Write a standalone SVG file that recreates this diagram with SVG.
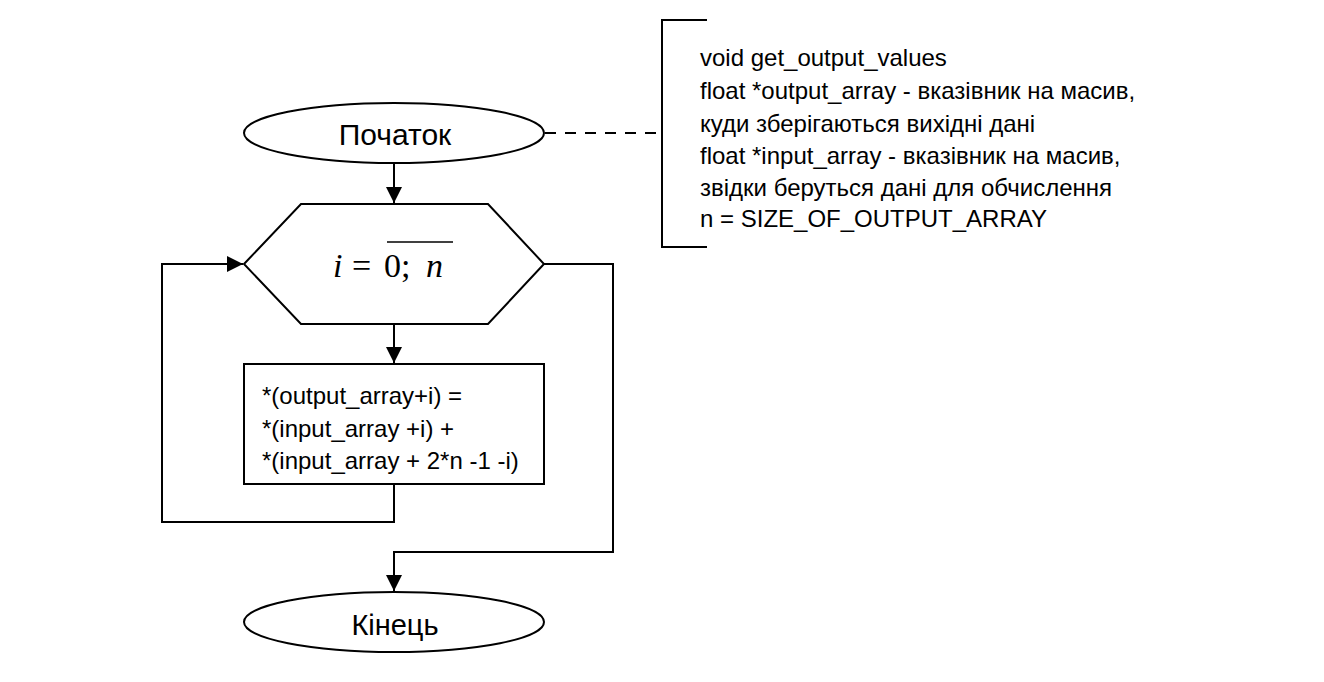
<svg xmlns="http://www.w3.org/2000/svg" width="1324" height="682" viewBox="0 0 1324 682">
<style>
.s{fill:#fff;stroke:#000;stroke-width:2}
.t{font-family:"Liberation Sans",Arial,sans-serif;fill:#000}
.c{fill:none;stroke:#000;stroke-width:2}
.m{font-family:"Liberation Serif","DejaVu Serif",serif;font-size:34px;fill:#000}
</style>
<defs>
<marker id="ah" viewBox="0 0 12 12" markerWidth="16" markerHeight="16" refX="12" refY="6" orient="auto" markerUnits="userSpaceOnUse">
<path d="M0,0 L12,6 L0,12 z" fill="#000"/>
</marker>
</defs>
<rect width="1324" height="682" fill="#fff"/>
<g id="connectors">
<path class="c" d="M394,163 V203" marker-end="url(#ah)"/>
<path class="c" d="M394,324 V363" marker-end="url(#ah)"/>
<path class="c" d="M394,484 V522 H162 V264 H243" marker-end="url(#ah)"/>
<path class="c" d="M544,264 H613 V552 H394 V591" marker-end="url(#ah)"/>
<path class="c" d="M545,133 H662" stroke-dasharray="11,9" stroke-width="1.5"/>
</g>
<g id="start">
<ellipse class="s" cx="394" cy="133" rx="150" ry="30"/>
<text class="t" x="395" y="145" font-size="30" text-anchor="middle">Початок</text>
</g>
<g id="loop">
<polygon class="s" points="244,264 301,204 488,204 544,264 488,324 301,324"/>
<text class="m" y="277"><tspan x="333" font-style="italic">i</tspan><tspan x="352">=</tspan><tspan x="384">0;</tspan><tspan x="426" font-style="italic">n</tspan></text>
<line x1="387" y1="242" x2="453" y2="242" stroke="#000" stroke-width="1.5"/>
</g>
<g id="process">
<rect class="s" x="244" y="364" width="300" height="120"/>
<text class="t" font-size="24"><tspan x="262" y="404">*(output_array+i) =</tspan><tspan x="262" y="437">*(input_array +i) +</tspan><tspan x="262" y="469">*(input_array + 2*n -1 -i)</tspan></text>
</g>
<g id="end">
<ellipse class="s" cx="394" cy="622" rx="150" ry="30"/>
<text class="t" x="395" y="635" font-size="29" text-anchor="middle">Кінець</text>
</g>
<g id="note">
<path class="c" d="M707,20 H662 V247 H707" stroke-width="1.5"/>
<text class="t" font-size="24"><tspan x="700" y="66">void get_output_values</tspan><tspan x="700" y="99">float *output_array - вказівник на масив,</tspan><tspan x="700" y="132">куди зберігаються вихідні дані</tspan><tspan x="700" y="164">float *input_array - вказівник на масив,</tspan><tspan x="700" y="196">звідки беруться дані для обчислення</tspan><tspan x="700" y="227">n = SIZE_OF_OUTPUT_ARRAY</tspan></text>
</g>
</svg>
